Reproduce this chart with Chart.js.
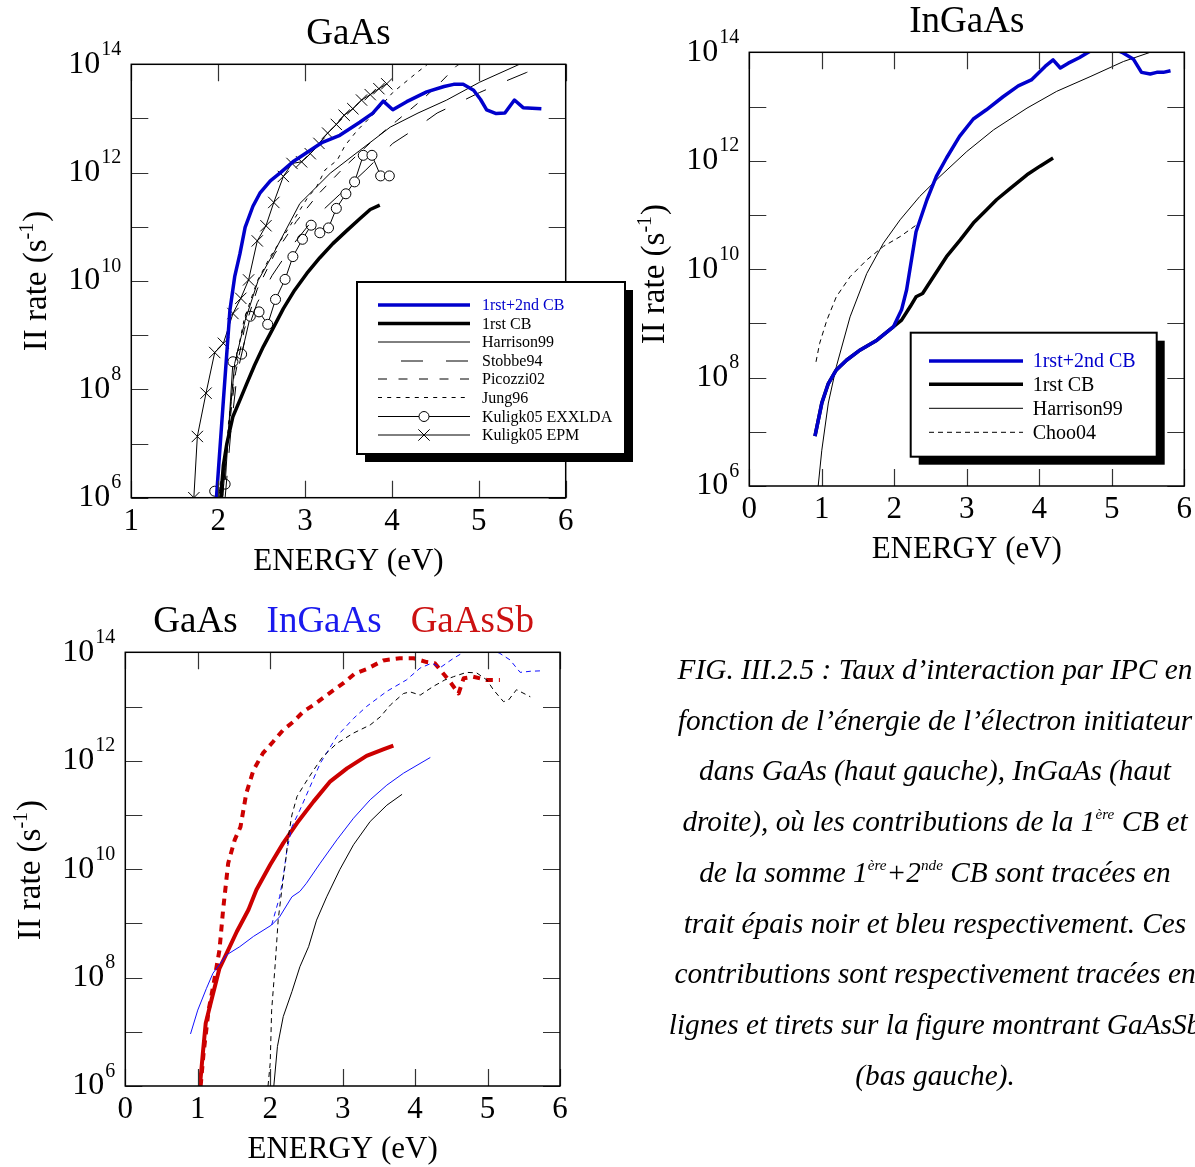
<!DOCTYPE html>
<html><head><meta charset="utf-8">
<script src="https://cdn.jsdelivr.net/npm/chart.js@4.4.0/dist/chart.umd.min.js"></script>
<style>
html,body{margin:0;padding:0;background:#fff;width:1195px;height:1167px;overflow:hidden;position:relative;}
canvas{position:absolute;}
#cap{position:absolute;left:585px;top:644px;width:700px;text-align:center;font-family:"Liberation Serif","Times New Roman",serif;font-style:italic;font-size:29.3px;line-height:50.7px;white-space:nowrap;color:#000;}
#cap sup{font-size:0.52em;line-height:0;vertical-align:0.8em;}
</style></head><body>
<canvas id="c1" width="645" height="590" style="left:0;top:0"></canvas>
<canvas id="c2" width="600" height="590" style="left:595px;top:0"></canvas>
<canvas id="c3" width="640" height="577" style="left:0;top:590px"></canvas>
<div id="cap">FIG. III.2.5 : Taux d’interaction par IPC en<br>fonction de l’énergie de l’électron initiateur<br>dans GaAs (haut gauche), InGaAs (haut<br>droite), où les contributions de la 1<sup>ère</sup> CB et<br>de la somme 1<sup>ère</sup>+2<sup>nde</sup> CB sont tracées en<br>trait épais noir et bleu respectivement. Ces<br>contributions sont respectivement tracées en<br>lignes et tirets sur la figure montrant GaAsSb<br>(bas gauche).</div>
<script>
const FONT = '"Liberation Serif","Times New Roman",serif';

// ---- tick labels ----
const gaasXTicks = [1, 2, 3, 4, 5, 6];
const zeroXTicks = [0, 1, 2, 3, 4, 5, 6];
const yTickExps = [6, 7, 8, 9, 10, 11, 12, 13, 14];
const yLabelExps = [6, 8, 10, 12, 14];

// ---- GaAs (top left): energy (eV) and log10(rate, s^-1) ----
const gaasTotalE = [1.98, 2.06, 2.135, 2.19, 2.25, 2.31, 2.40, 2.48, 2.60, 2.71, 2.86, 3.00, 3.20, 3.40, 3.63, 3.78, 3.90, 4.01, 4.17, 4.40, 4.60, 4.71, 4.82, 4.94, 5.02, 5.09, 5.20, 5.30, 5.41, 5.51, 5.72];
const gaasTotalLog = [6.0, 7.8, 9.46, 10.08, 10.5, 10.99, 11.38, 11.62, 11.85, 11.99, 12.2, 12.35, 12.56, 12.69, 12.93, 13.1, 13.32, 13.16, 13.31, 13.49, 13.59, 13.63, 13.63, 13.52, 13.35, 13.16, 13.09, 13.1, 13.34, 13.2, 13.18];
const gaasCb1E = [2.03, 2.06, 2.10, 2.17, 2.25, 2.33, 2.42, 2.52, 2.63, 2.75, 2.88, 3.02, 3.17, 3.32, 3.48, 3.63, 3.75, 3.86];
const gaasCb1Log = [6.0, 6.6, 7.0, 7.5, 7.8, 8.11, 8.45, 8.79, 9.12, 9.49, 9.83, 10.14, 10.43, 10.69, 10.93, 11.15, 11.32, 11.40];
const harrisonE = [2.05, 2.11, 2.19, 2.31, 2.46, 2.65, 2.94, 3.29, 3.63, 3.98, 4.30, 4.63, 5.01, 5.44, 5.60];
const harrisonLog = [6.0, 7.06, 8.48, 9.27, 10.01, 10.55, 11.43, 11.99, 12.41, 12.84, 13.1, 13.34, 13.67, 13.98, 14.1];
const stobbeE = [2.08, 2.15, 2.22, 2.32, 2.45, 2.62, 2.85, 3.1, 3.4, 3.7, 4.01, 4.24, 4.52, 4.78, 5.01, 5.28, 5.55, 5.75];
const stobbeLog = [6.0, 7.3, 8.3, 9.0, 9.6, 10.1, 10.65, 11.15, 11.6, 12.05, 12.54, 12.78, 13.1, 13.3, 13.48, 13.67, 13.85, 13.98];
const picozziE = [2.05, 2.12, 2.2, 2.3, 2.45, 2.65, 2.9, 3.15, 3.45, 3.75, 4.05, 4.35, 4.55, 4.75, 4.9];
const picozziLog = [6.0, 7.2, 8.3, 9.1, 9.85, 10.5, 11.1, 11.6, 12.1, 12.55, 12.95, 13.35, 13.65, 13.98, 14.1];
const jungE = [2.05, 2.12, 2.2, 2.3, 2.45, 2.6, 2.8, 3.03, 3.13, 3.23, 3.37, 3.46, 3.6, 3.8, 4.01, 4.29, 4.45];
const jungLog = [6.0, 7.4, 8.5, 9.3, 10.0, 10.45, 10.95, 11.54, 11.73, 12.05, 12.23, 12.5, 12.78, 13.1, 13.48, 13.85, 14.05];
const kuligExxE = [1.96, 2.08, 2.17, 2.27, 2.37, 2.47, 2.57, 2.66, 2.77, 2.86, 2.97, 3.07, 3.17, 3.27, 3.36, 3.47, 3.57, 3.67, 3.77, 3.87, 3.97];
const kuligExxLog = [6.12, 6.25, 8.51, 8.65, 9.35, 9.43, 9.20, 9.66, 10.03, 10.45, 10.77, 11.03, 10.89, 10.98, 11.34, 11.61, 11.83, 12.32, 12.32, 11.94, 11.94];
const kuligEpmE = [1.72, 1.76, 1.86, 1.96, 2.06, 2.17, 2.26, 2.35, 2.45, 2.55, 2.64, 2.75, 2.85, 2.96, 3.06, 3.16, 3.26, 3.36, 3.45, 3.55, 3.65, 3.75, 3.85, 3.94];
const kuligEpmLog = [6.0, 7.13, 7.93, 8.68, 8.85, 9.40, 9.68, 10.02, 10.74, 11.02, 11.45, 11.93, 12.17, 12.2, 12.35, 12.54, 12.73, 12.89, 13.06, 13.18, 13.34, 13.44, 13.55, 13.64];

// ---- InGaAs (top right) ----
const ingTotalE = [0.906, 1.0, 1.09, 1.20, 1.34, 1.53, 1.76, 1.99, 2.10, 2.17, 2.30, 2.45, 2.58, 2.72, 2.90, 3.09, 3.27, 3.50, 3.71, 3.89, 4.08, 4.19, 4.29, 4.40, 4.55, 4.70, 4.85, 5.0, 5.14, 5.30, 5.41, 5.53, 5.62, 5.71, 5.81];
const ingTotalLog = [6.92, 7.53, 7.89, 8.14, 8.32, 8.51, 8.69, 8.94, 9.25, 9.62, 10.69, 11.28, 11.71, 12.05, 12.45, 12.77, 12.94, 13.18, 13.38, 13.49, 13.74, 13.86, 13.71, 13.80, 13.9, 14.02, 14.08, 14.08, 14.0, 13.87, 13.63, 13.6, 13.63, 13.63, 13.66];
const ingCb1E = [0.906, 1.0, 1.09, 1.20, 1.34, 1.53, 1.76, 1.99, 2.10, 2.22, 2.30, 2.39, 2.54, 2.72, 2.91, 3.09, 3.27, 3.41, 3.60, 3.83, 4.01, 4.19];
const ingCb1Log = [6.92, 7.53, 7.89, 8.14, 8.32, 8.51, 8.69, 8.94, 9.06, 9.31, 9.49, 9.55, 9.86, 10.23, 10.54, 10.85, 11.09, 11.28, 11.49, 11.74, 11.90, 12.05];
const ingHarrisonE = [0.95, 1.0, 1.09, 1.20, 1.39, 1.62, 1.85, 2.08, 2.35, 2.63, 3.0, 3.37, 3.83, 4.24, 4.70, 5.16, 5.53];
const ingHarrisonLog = [6.0, 6.66, 7.53, 8.20, 9.12, 9.92, 10.48, 10.91, 11.34, 11.71, 12.17, 12.57, 12.97, 13.28, 13.55, 13.83, 14.0];
const chooE = [0.92, 0.97, 1.07, 1.20, 1.39, 1.62, 1.85, 2.08, 2.31];
const chooLog = [8.29, 8.63, 9.06, 9.49, 9.86, 10.17, 10.42, 10.60, 10.82];

// ---- comparison (bottom left) ----
const cmpGaasCb1E = [2.05, 2.10, 2.18, 2.30, 2.41, 2.53, 2.64, 2.78, 2.96, 3.15, 3.38, 3.61, 3.82];
const cmpGaasCb1Log = [6.0, 6.73, 7.28, 7.74, 8.2, 8.57, 9.06, 9.49, 9.99, 10.45, 10.88, 11.18, 11.38];
const cmpGaasTotE = [1.97, 2.0, 2.02, 2.07, 2.11, 2.16, 2.21, 2.25, 2.30, 2.37, 2.48, 2.60, 2.73, 2.92, 3.15, 3.38, 3.52, 3.66, 3.84, 3.93, 4.07, 4.25, 4.41, 4.53, 4.71, 4.85, 4.99, 5.08, 5.22, 5.29, 5.40, 5.59];
const cmpGaasTotLog = [6.0, 6.42, 7.4, 8.26, 9.06, 9.62, 10.11, 10.6, 11.0, 11.34, 11.58, 11.83, 12.08, 12.32, 12.51, 12.66, 12.81, 13.03, 13.24, 13.27, 13.21, 13.37, 13.49, 13.55, 13.63, 13.62, 13.49, 13.31, 13.09, 13.12, 13.31, 13.18];
const cmpIngCb1E = [0.90, 1.0, 1.12, 1.21, 1.40, 1.58, 1.77, 2.02, 2.13, 2.30, 2.41, 2.50, 2.69, 2.92, 3.15, 3.38, 3.61, 3.84, 4.21];
const cmpIngCb1Log = [6.96, 7.4, 7.80, 8.08, 8.42, 8.57, 8.76, 8.97, 9.12, 9.49, 9.59, 9.74, 10.11, 10.54, 10.94, 11.28, 11.55, 11.77, 12.06];
const cmpIngTotE = [2.02, 2.13, 2.18, 2.23, 2.30, 2.41, 2.55, 2.69, 2.92, 3.15, 3.33, 3.61, 3.88, 4.07, 4.23, 4.35, 4.53, 4.67, 4.85, 5.0, 5.17, 5.31, 5.45, 5.59, 5.77];
const cmpIngTotLog = [8.97, 9.49, 9.86, 10.35, 10.78, 11.09, 11.52, 11.95, 12.45, 12.78, 13.0, 13.28, 13.49, 13.71, 13.80, 13.72, 13.89, 14.0, 14.08, 14.08, 13.98, 13.86, 13.63, 13.65, 13.66];
const cmpSbCb1E = [1.03, 1.07, 1.11, 1.19, 1.30, 1.40, 1.54, 1.70, 1.81, 2.0, 2.18, 2.37, 2.60, 2.83, 3.06, 3.33, 3.56, 3.70];
const cmpSbCb1Log = [6.0, 6.6, 7.16, 7.59, 8.17, 8.45, 8.85, 9.25, 9.62, 10.08, 10.48, 10.85, 11.25, 11.62, 11.86, 12.09, 12.21, 12.28];
const cmpSbTotE = [1.04, 1.08, 1.15, 1.22, 1.30, 1.35, 1.39, 1.42, 1.51, 1.59, 1.67, 1.77, 1.90, 2.04, 2.18, 2.32, 2.46, 2.60, 2.78, 3.01, 3.17, 3.33, 3.56, 3.79, 3.98, 4.16, 4.27, 4.37, 4.48, 4.60, 4.67, 4.80, 4.99, 5.17];
const cmpSbTotLog = [6.0, 6.6, 7.4, 7.89, 8.51, 9.25, 9.74, 10.11, 10.54, 10.78, 11.40, 11.83, 12.14, 12.35, 12.57, 12.72, 12.91, 13.03, 13.21, 13.43, 13.61, 13.69, 13.85, 13.89, 13.89, 13.82, 13.80, 13.64, 13.46, 13.24, 13.52, 13.55, 13.49, 13.49];

const BLUE = '#0000cc', RED = '#cc0000', BLUE2 = '#1010ff';

function pts(E, L) { return E.map((e, i) => ({ x: e, y: Math.pow(10, L[i]) })); }
function ds(label, E, L, st) {
  return Object.assign({ label, data: pts(E, L), borderColor: '#000', backgroundColor: '#000', borderWidth: 1,
    pointRadius: 0, tension: 0, fill: false, borderCapStyle: 'butt', borderJoinStyle: 'round' }, st);
}

function drawMarker(ctx, style, x, y, r) {
  ctx.save(); ctx.setLineDash([]); ctx.lineWidth = 1; ctx.strokeStyle = '#000';
  ctx.beginPath();
  if (style === 'circle') { ctx.arc(x, y, r, 0, Math.PI * 2); ctx.fillStyle = '#fff'; ctx.fill(); ctx.stroke(); }
  else if (style === 'crossRot') { const d = r * Math.SQRT1_2; ctx.moveTo(x - d, y - d); ctx.lineTo(x + d, y + d); ctx.moveTo(x + d, y - d); ctx.lineTo(x - d, y + d); ctx.stroke(); }
  ctx.restore();
}

const decor = {
  id: 'decor',
  afterDatasetsDraw(chart, args, o) {
    const ctx = chart.ctx, a = chart.chartArea, xs = chart.scales.x, ys = chart.scales.y;
    ctx.save();
    // inward tick marks
    ctx.strokeStyle = '#333'; ctx.lineWidth = 1.2; ctx.setLineDash([]);
    ctx.beginPath();
    o.xTicks.forEach(v => { const px = Math.round(xs.getPixelForValue(v)) + 0.5;
      ctx.moveTo(px, a.top); ctx.lineTo(px, a.top + 17); ctx.moveTo(px, a.bottom); ctx.lineTo(px, a.bottom - 17); });
    yTickExps.forEach(e => { const py = Math.round(ys.getPixelForValue(Math.pow(10, e))) + 0.5;
      ctx.moveTo(a.left, py); ctx.lineTo(a.left + 17, py); ctx.moveTo(a.right, py); ctx.lineTo(a.right - 17, py); });
    ctx.stroke();
    // frame
    ctx.strokeStyle = '#000'; ctx.lineWidth = 1.5;
    ctx.strokeRect(a.left, a.top, a.right - a.left, a.bottom - a.top);
    ctx.fillStyle = '#000';
    // x tick labels
    ctx.font = '31px ' + FONT; ctx.textAlign = 'center'; ctx.textBaseline = 'alphabetic';
    o.xTicks.forEach(v => ctx.fillText(String(v), xs.getPixelForValue(v), a.bottom + 32));
    // y tick labels 10^n
    yLabelExps.forEach(e => {
      const py = ys.getPixelForValue(Math.pow(10, e));
      ctx.font = '32px ' + FONT; const wb = ctx.measureText('10').width;
      ctx.font = '20px ' + FONT; const we = ctx.measureText(String(e)).width;
      const x0 = a.left - 10 - we - wb - 1;
      ctx.textAlign = 'left';
      ctx.font = '32px ' + FONT; ctx.fillText('10', x0, py + 8.4);
      ctx.font = '20px ' + FONT; ctx.fillText(String(e), x0 + wb + 1, py - 9.3);
    });
    // x title
    ctx.font = '31px ' + FONT; ctx.textAlign = 'center';
    ctx.fillText('ENERGY (eV)', (a.left + a.right) / 2, a.bottom + 72);
    // y title (rotated)
    ctx.save();
    ctx.translate(a.left - 85, (a.top + a.bottom) / 2 + (o.yTitleShift || 0));
    ctx.rotate(-Math.PI / 2);
    ctx.textAlign = 'left';
    ctx.font = '33px ' + FONT; const w1 = ctx.measureText('II rate (s').width; const w3 = ctx.measureText(')').width;
    ctx.font = '20px ' + FONT; const w2 = ctx.measureText('-1').width;
    let sx = -(w1 + w2 + w3 + 1) / 2;
    ctx.font = '33px ' + FONT; ctx.fillText('II rate (s', sx, 0); sx += w1;
    ctx.font = '20px ' + FONT; ctx.fillText('-1', sx, -13); sx += w2 + 1;
    ctx.font = '33px ' + FONT; ctx.fillText(')', sx, 0);
    ctx.restore();
    // title words
    ctx.font = '37px ' + FONT; ctx.textAlign = 'left';
    const gap = 29;
    const widths = o.title.map(t => ctx.measureText(t.text).width);
    const tot = widths.reduce((s, w) => s + w, 0) + gap * (o.title.length - 1);
    let tx = (a.left + a.right) / 2 + (o.titleShift || 0) - tot / 2;
    o.title.forEach((t, i) => { ctx.fillStyle = t.color; ctx.fillText(t.text, tx, a.top - 20); tx += widths[i] + gap; });
    // legend box
    const L = o.legend;
    if (L) {
      const [x0, y0, x1, y1] = L.box;
      ctx.fillStyle = '#000'; ctx.fillRect(x0 + L.shadow, y0 + L.shadow, x1 - x0, y1 - y0);
      ctx.fillStyle = '#fff'; ctx.fillRect(x0, y0, x1 - x0, y1 - y0);
      ctx.strokeStyle = '#000'; ctx.lineWidth = 2; ctx.strokeRect(x0, y0, x1 - x0, y1 - y0);
      ctx.font = L.font + 'px ' + FONT; ctx.textBaseline = 'middle'; ctx.textAlign = 'left';
      chart.data.datasets.forEach((d, i) => {
        const ry = L.rows[i];
        ctx.save();
        ctx.strokeStyle = d.borderColor; ctx.lineWidth = d.borderWidth; ctx.lineCap = 'butt';
        ctx.setLineDash(d.borderDash || []); ctx.lineDashOffset = (L.dashOffsets && L.dashOffsets[i]) || 0;
        ctx.beginPath(); ctx.moveTo(L.lineX[0], ry); ctx.lineTo(L.lineX[1], ry); ctx.stroke();
        ctx.restore();
        if (d.pointStyle && d.pointRadius > 0) drawMarker(ctx, d.pointStyle, (L.lineX[0] + L.lineX[1]) / 2, ry, d.pointStyle === 'circle' ? 5 : 8);
        ctx.fillStyle = (L.textColors && L.textColors[i]) || '#000';
        ctx.fillText(d.label, L.textX, ry + 1);
      });
    }
    ctx.restore();
  }
};

function makeChart(id, xmin, padding, datasets, decorOpts) {
  return new Chart(document.getElementById(id), {
    type: 'line',
    data: { datasets },
    options: {
      responsive: false, animation: false, events: [], devicePixelRatio: 1,
      layout: { padding },
      plugins: { legend: { display: false }, title: { display: false }, tooltip: { enabled: false }, decor: decorOpts },
      scales: {
        x: { type: 'linear', min: xmin, max: 6, display: false },
        y: { type: 'logarithmic', min: 1e6, max: 1e14, display: false,
             afterBuildTicks: s => { s.ticks = yTickExps.map(e => ({ value: Math.pow(10, e) })); } }
      }
    },
    plugins: [decor]
  });
}

// Top-left: GaAs
makeChart('c1', 1, { left: 131.3, top: 64.3, right: 79.3, bottom: 92.3 }, [
  ds('1rst+2nd CB', gaasTotalE, gaasTotalLog, { borderColor: BLUE, borderWidth: 3.5 }),
  ds('1rst CB', gaasCb1E, gaasCb1Log, { borderWidth: 3.5 }),
  ds('Harrison99', harrisonE, harrisonLog, {}),
  ds('Stobbe94', stobbeE, stobbeLog, { borderDash: [22, 23] }),
  ds('Picozzi02', picozziE, picozziLog, { borderDash: [9, 11.5] }),
  ds('Jung96', jungE, jungLog, { borderDash: [4, 5.2] }),
  ds('Kuligk05 EXXLDA', kuligExxE, kuligExxLog, { pointStyle: 'circle', pointRadius: 5, pointBorderColor: '#000', pointBackgroundColor: '#fff', pointBorderWidth: 1 }),
  ds('Kuligk05 EPM', kuligEpmE, kuligEpmLog, { pointStyle: 'crossRot', pointRadius: 8, pointBorderColor: '#000', pointBorderWidth: 1 })
], {
  xTicks: gaasXTicks, title: [{ text: 'GaAs', color: '#000' }],
  legend: { box: [357, 282, 625, 454], shadow: 8, lineX: [378, 470], textX: 482, font: 16,
    rows: [305, 323.5, 342, 361, 379, 397.5, 416.5, 435], dashOffsets: [0, 0, 0, 22, 0, 0, 0, 0], textColors: [BLUE] }
});

// Top-right: InGaAs
makeChart('c2', 0, { left: 154.3, top: 52.3, right: 10.7, bottom: 104 }, [
  ds('1rst+2nd CB', ingTotalE, ingTotalLog, { borderColor: BLUE, borderWidth: 3.5 }),
  ds('1rst CB', ingCb1E, ingCb1Log, { borderWidth: 3.5 }),
  ds('Harrison99', ingHarrisonE, ingHarrisonLog, {}),
  ds('Choo04', chooE, chooLog, { borderDash: [5, 4] })
], {
  xTicks: zeroXTicks, title: [{ text: 'InGaAs', color: '#000' }], yTitleShift: 5,
  legend: { box: [315.7, 332.7, 561.7, 456.7], shadow: 8, lineX: [334, 428], textX: 437.7, font: 20,
    rows: [361, 384.3, 408.3, 432.3], textColors: [BLUE] }
});

// Bottom-left: comparison
makeChart('c3', 0, { left: 125.3, top: 62.3, right: 80, bottom: 81 }, [
  ds('GaAs 1rst CB', cmpGaasCb1E, cmpGaasCb1Log, {}),
  ds('GaAs 1rst+2nd CB', cmpGaasTotE, cmpGaasTotLog, { borderDash: [5, 4] }),
  ds('InGaAs 1rst CB', cmpIngCb1E, cmpIngCb1Log, { borderColor: BLUE2 }),
  ds('InGaAs 1rst+2nd CB', cmpIngTotE, cmpIngTotLog, { borderColor: BLUE2, borderDash: [5, 4] }),
  ds('GaAsSb 1rst CB', cmpSbCb1E, cmpSbCb1Log, { borderColor: RED, borderWidth: 4 }),
  ds('GaAsSb 1rst+2nd CB', cmpSbTotE, cmpSbTotLog, { borderColor: RED, borderWidth: 4, borderDash: [7, 6] })
], {
  xTicks: zeroXTicks, yTitleShift: 1, titleShift: 1,
  title: [{ text: 'GaAs', color: '#000' }, { text: 'InGaAs', color: '#1a1aee' }, { text: 'GaAsSb', color: '#cc1111' }]
});
</script>
</body></html>
